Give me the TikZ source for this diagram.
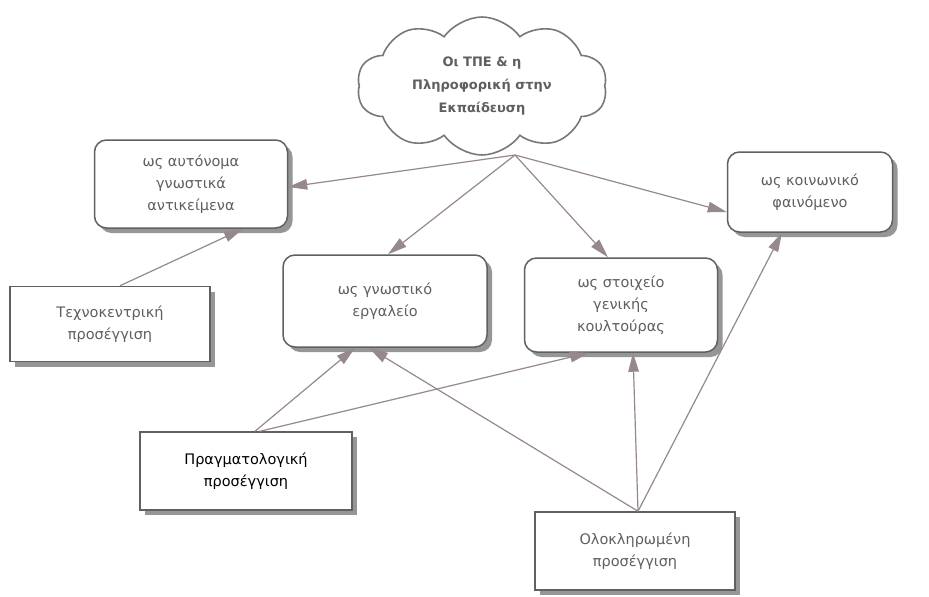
\documentclass[tikz,border=0pt]{standalone}
\usepackage{fontspec}
\setmainfont{DejaVu Sans}
\usetikzlibrary{shapes.symbols, shadows, arrows.meta, calc}
\definecolor{boxline}{RGB}{96,96,96}
\definecolor{arrline}{RGB}{150,136,142}
\definecolor{txtgray}{RGB}{95,95,95}
\definecolor{shadegray}{RGB}{150,150,150}

\tikzset{
  roundbox/.style={draw=boxline, line width=1.5pt, rounded corners=12pt, fill=white,
    align=center, text=txtgray, font=\fontsize{14.5}{22}\selectfont,
    drop shadow={shadow xshift=5pt, shadow yshift=-5pt, fill=shadegray, opacity=1}},
  flatbox/.style={roundbox, rounded corners=0pt},
  link/.style={draw=arrline, line width=1.2pt,
    -{Triangle[length=19pt, width=10.5pt, fill=arrline]}},
}

\begin{document}
\begin{tikzpicture}[x=1pt, y=-1pt]
  \useasboundingbox[fill=white] (0,0) rectangle (929,597);

  % --- cloud (top) ---
  \node[cloud, cloud puffs=10, cloud puff arc=110, aspect=1.9, draw=shadegray!80!black,
        line width=1.6pt, minimum width=250pt, minimum height=138pt, align=center,
        text=txtgray, font=\bfseries\fontsize{13}{23}\selectfont]
    (tpe) at (482,86) {Οι ΤΠΕ \& η\\Πληροφορική στην\\Εκπαίδευση};
  \coordinate (tpe-foot) at (515,155);

  % --- upper row ---
  \node[roundbox, minimum width=193pt, minimum height=88pt] (auto) at (191,184)
    {ως αυτόνομα\\γνωστικά\\αντικείμενα};
  \node[roundbox, minimum width=165pt, minimum height=80pt] (koin) at (810,192)
    {ως κοινωνικό\\φαινόμενο};

  % --- middle row ---
  \node[roundbox, minimum width=204pt, minimum height=92pt] (gnos) at (385,301)
    {ως γνωστικό\\εργαλείο};
  \node[roundbox, minimum width=193pt, minimum height=94pt] (stoi) at (621,305)
    {ως στοιχείο\\γενικής\\κουλτούρας};

  % --- approaches (square boxes) ---
  \node[flatbox, minimum width=200pt, minimum height=75pt] (tech) at (110,324)
    {Τεχνοκεντρική\\προσέγγιση};
  \node[flatbox, minimum width=212pt, minimum height=78pt, text=black] (prag) at (246,471)
    {Πραγματολογική\\προσέγγιση};
  \node[flatbox, minimum width=200pt, minimum height=78pt] (olok) at (635,551)
    {Ολοκληρωμένη\\προσέγγιση};

  % === arrows out of the cloud ===
  \draw[link] (tpe-foot) -- ($(auto.east)+(0,3)$);
  \draw[link] (tpe-foot) -- ($(koin.west)+(0,20)$);
  \draw[link] (tpe-foot) -- ($(gnos.north)+(3,0)$);
  \draw[link] (tpe-foot) -- ($(stoi.north)+(-13,0)$);

  % === arrows from the approaches ===
  \draw[link] ($(tech.north)+(10,0)$) -- ($(auto.south)+(52,0)$);

  \draw[link] ($(prag.north)+(9,0)$) -- ($(gnos.south)+(-30,0)$);
  \draw[link] ($(prag.north)+(14,0)$) -- ($(stoi.south)+(-32,0)$);

  \draw[link] ($(olok.north)+(3,0)$) -- ($(gnos.south)+(-16,0)$);
  \draw[link] ($(olok.north)+(3,0)$) -- ($(stoi.south)+(12,0)$);
  \draw[link] ($(olok.north)+(3,0)$) -- ($(koin.south)+(-28,0)$);
\end{tikzpicture}
\end{document}
